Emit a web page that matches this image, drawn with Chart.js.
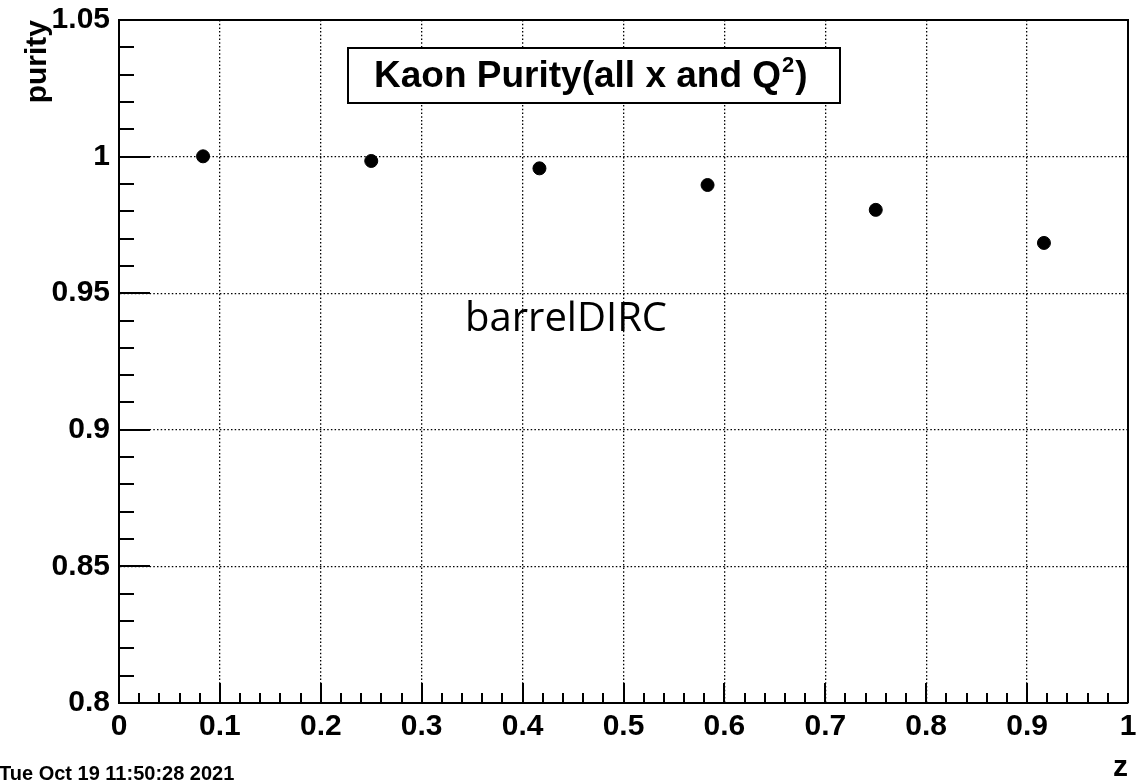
<!DOCTYPE html>
<html>
<head>
    <title>Kaon Purity</title>
    <script src="https://cdn.jsdelivr.net/npm/chart.js"></script>
    <style>
        body {
            margin: 0;
            background: #ffffff;
        }
        #wrap {
            width: 1147px;
            height: 783px;
            position: relative;
        }
    </style>
</head>
<body>

<div id="wrap">
    <canvas id="purityChart" width="1147" height="783"></canvas>
</div>

<script>
// data
const zValues = [0.0833, 0.25, 0.4167, 0.5833, 0.75, 0.9167];
const purity  = [1.0001, 0.9984, 0.9957, 0.9896, 0.9805, 0.9684];

// axis settings
const xRange = [0, 1];
const yRange = [0.8, 1.05];
const xMajor = 0.1, xMinor = 0.02;
const yMajor = 0.05, yMinor = 0.01;

const titleText = 'Kaon Purity(all x and Q';
const titleSup = '2';
const detectorLabel = 'barrelDIRC';
const dateText = 'Tue Oct 19 11:50:28 2021';

const boldFont = '"Liberation Sans", Arial, Helvetica, sans-serif';

function fmt(v) {
    return String(+v.toFixed(2));
}

// ROOT-like inside ticks, frame, title box and labels
const rootStyle = {
    id: 'rootStyle',
    afterDraw(chart) {
        const ctx = chart.ctx;
        const area = chart.chartArea;
        const xs = chart.scales.x, ys = chart.scales.y;
        ctx.save();
        ctx.strokeStyle = '#000';
        ctx.lineWidth = 2;

        // frame top and right
        ctx.beginPath();
        ctx.moveTo(area.left, area.top);
        ctx.lineTo(area.right, area.top);
        ctx.lineTo(area.right, area.bottom);
        ctx.stroke();

        // x ticks
        ctx.beginPath();
        for (let v = xRange[0]; v <= xRange[1] + 1e-9; v += xMinor) {
            const major = Math.abs(v / xMajor - Math.round(v / xMajor)) < 1e-6;
            const px = Math.round(xs.getPixelForValue(v));
            ctx.moveTo(px, area.bottom);
            ctx.lineTo(px, area.bottom - (major ? 20 : 10));
        }
        // y ticks
        for (let v = yRange[0]; v <= yRange[1] + 1e-9; v += yMinor) {
            const major = Math.abs((v - yRange[0]) / yMajor - Math.round((v - yRange[0]) / yMajor)) < 1e-6;
            const py = Math.round(ys.getPixelForValue(v));
            ctx.moveTo(area.left, py);
            ctx.lineTo(area.left + (major ? 31 : 15), py);
        }
        ctx.stroke();

        // title box
        ctx.fillStyle = '#fff';
        ctx.fillRect(348, 48, 492, 55);
        ctx.lineWidth = 2;
        ctx.strokeRect(348, 48, 492, 55);
        ctx.fillStyle = '#000';
        ctx.font = 'bold 37px ' + boldFont;
        ctx.textBaseline = 'alphabetic';
        ctx.textAlign = 'left';
        let tx = 374;
        ctx.fillText(titleText, tx, 87);
        tx += ctx.measureText(titleText).width;
        ctx.font = 'bold 22px ' + boldFont;
        ctx.fillText(titleSup, tx + 1, 72);
        tx += ctx.measureText(titleSup).width + 2;
        ctx.font = 'bold 37px ' + boldFont;
        ctx.fillText(')', tx, 87);

        // detector label
        ctx.font = '40px "Open Sans", sans-serif';
        ctx.fillText(detectorLabel, 465, 331);

        // date stamp
        ctx.font = 'bold 20px ' + boldFont;
        ctx.fillText(dateText, -1, 780);
        ctx.restore();
    }
};

function gridColor(c, range) {
    if (!c.tick) return 'rgba(0,0,0,0)';
    const v = c.tick.value;
    if (Math.abs(v - range[0]) < 1e-6 || Math.abs(v - range[1]) < 1e-6) return 'rgba(0,0,0,0)';
    return '#000';
}

const ctx = document.getElementById('purityChart');
new Chart(ctx, {
    type: 'scatter',
    data: {
        datasets: [{
            label: 'purity',
            data: zValues.map((z, i) => ({ x: z, y: purity[i] })),
            backgroundColor: '#000',
            borderColor: '#000',
            pointRadius: 6.5,
            pointHoverRadius: 6.5
        }]
    },
    options: {
        responsive: false,
        animation: false,
        devicePixelRatio: 1,
        layout: { padding: { top: 20, right: 19, left: 0, bottom: 0 } },
        plugins: {
            legend: { display: false },
            tooltip: { enabled: false }
        },
        scales: {
            x: {
                type: 'linear',
                min: xRange[0],
                max: xRange[1],
                afterFit: s => { s.height = 80; },
                ticks: {
                    stepSize: xMajor,
                    color: '#000',
                    padding: 6,
                    maxRotation: 0,
                    font: { family: boldFont, size: 30, weight: 'bold' },
                    callback: v => fmt(v)
                },
                grid: {
                    drawTicks: false,
                    lineWidth: 1.3,
                    color: c => gridColor(c, xRange)
                },
                border: { display: true, color: '#000', width: 2, dash: [1.5, 2.2] },
                title: {
                    display: true,
                    text: 'z',
                    align: 'end',
                    color: '#000',
                    padding: 0,
                    font: { family: boldFont, size: 30, weight: 'bold', lineHeight: 1 }
                }
            },
            y: {
                type: 'linear',
                min: yRange[0],
                max: yRange[1],
                afterFit: s => { s.width = 119; },
                ticks: {
                    stepSize: yMajor,
                    color: '#000',
                    padding: 9,
                    font: { family: boldFont, size: 30, weight: 'bold', lineHeight: 0.6 },
                    callback: v => fmt(v)
                },
                grid: {
                    drawTicks: false,
                    lineWidth: 1.3,
                    color: c => gridColor(c, yRange)
                },
                border: { display: true, color: '#000', width: 2, dash: [1.5, 2.2] },
                title: {
                    display: true,
                    text: 'purity',
                    align: 'end',
                    color: '#000',
                    padding: { top: 20, bottom: 0 },
                    font: { family: boldFont, size: 30, weight: 'bold', lineHeight: 1.2 }
                }
            }
        }
    },
    plugins: [rootStyle]
});
</script>

</body>
</html>
